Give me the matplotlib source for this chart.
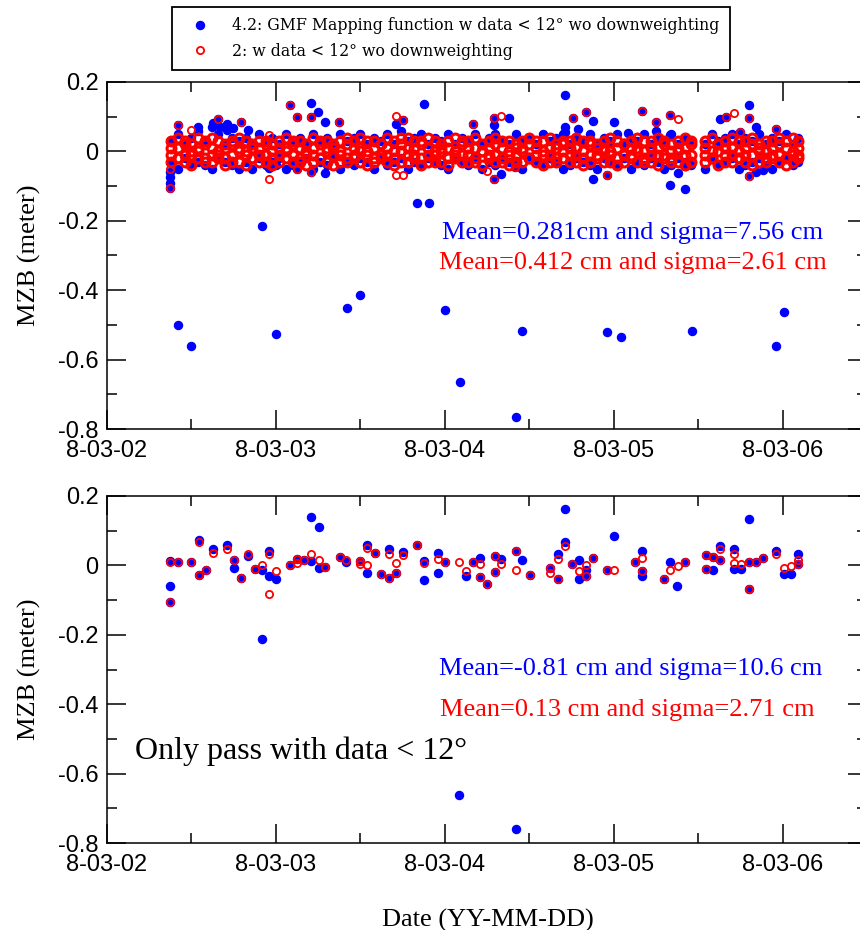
import numpy as np
import matplotlib
matplotlib.use('Agg')
import matplotlib.pyplot as plt
import matplotlib.dates as mdates
from matplotlib.lines import Line2D
from matplotlib.ticker import MultipleLocator, FuncFormatter

plt.rcParams['axes.unicode_minus'] = False

# epochs are days after 2008-03-02 00:00
start = '2008-03-02T00:00'

# dense band of the full solution (values in cm)
band_t = [0.38, 0.42, 0.46, 0.50, 0.54, 0.58, 0.62, 0.66, 0.70, 0.74,
          0.78, 0.82, 0.86, 0.90, 0.94, 0.98, 1.02, 1.06, 1.10, 1.14,
          1.18, 1.22, 1.26, 1.30, 1.34, 1.38, 1.42, 1.46, 1.50, 1.54,
          1.58, 1.62, 1.66, 1.70, 1.74, 1.78, 1.82, 1.86, 1.90, 1.94,
          1.98, 2.02, 2.06, 2.10, 2.14, 2.18, 2.22, 2.26, 2.30, 2.34,
          2.38, 2.42, 2.46, 2.50, 2.54, 2.58, 2.62, 2.66, 2.70, 2.74,
          2.78, 2.82, 2.86, 2.90, 2.94, 2.98, 3.02, 3.06, 3.10, 3.14,
          3.18, 3.22, 3.26, 3.30, 3.34, 3.38, 3.42, 3.46,
          3.54, 3.58, 3.62, 3.66, 3.70, 3.74, 3.78, 3.82, 3.86, 3.90, 3.94, 3.98, 4.02, 4.06, 4.09]

red_hi = [3, 4, 3, 2, 4, 3, 4, 3, 2, 3,
          4, 3, 2, 3, 3, 2, 3, 4, 3, 3,
          2, 4, 3, 3, 2, 3, 4, 3, 4, 3,
          3, 2, 4, 3, 4, 4, 3, 3, 4, 3,
          2, 3, 4, 3, 3, 4, 2, 3, 4, 3,
          3, 2, 3, 4, 3, 3, 4, 2, 3, 3,
          4, 3, 3, 2, 3, 4, 3, 2, 3, 4,
          3, 3, 4, 3, 2, 3, 4, 3,
          3, 4, 2, 3, 4, 3, 3, 4, 2, 3, 3, 4, 3, 4, 3]
red_m1 = [1, 1, 2, 0, 1, 2, 1, 0, 1, 2,
          1, 0, 1, 1, 2, 0, 1, 1, 2, 1,
          0, 1, 2, 1, 1, 0, 2, 1, 1, 0,
          1, 2, 1, 0, 2, 1, 1, 2, 1, 0,
          1, 1, 0, 2, 1, 1, 0, 1, 2, 1,
          0, 1, 1, 2, 1, 0, 1, 1, 2, 1,
          1, 0, 2, 1, 1, 0, 1, 2, 1, 1,
          0, 1, 1, 2, 0, 1, 1, 2,
          1, 0, 2, 1, 1, 0, 1, 2, 1, 0, 1, 2, 1, 0, 1]
red_m2 = [-1, -2, -1, -1, 0, -2, -1, -1, -2, -1,
          0, -1, -2, -1, -1, -2, -1, 0, -1, -2,
          -1, -1, -2, 0, -1, -1, -2, -1, 0, -1,
          -2, -1, -1, -2, 0, -1, -1, -2, -1, -1,
          0, -2, -1, -1, -1, -2, 0, -1, -1, -2,
          -1, -1, 0, -2, -1, -1, -1, -2, 0, -1,
          -1, -2, -1, -1, 0, -1, -2, -1, -1, 0,
          -2, -1, -1, -1, -2, 0, -1, -1,
          -1, -2, 0, -1, -1, -2, -1, -1, 0, -2, -1, -1, -2, -1, -1]
red_lo = [-3, -2, -3, -4, -2, -3, -3, -2, -4, -3,
          -3, -4, -2, -3, -3, -4, -3, -2, -3, -3,
          -4, -3, -2, -3, -4, -3, -3, -2, -3, -4,
          -3, -2, -3, -4, -3, -3, -2, -4, -3, -3,
          -3, -4, -2, -3, -3, -3, -4, -2, -3, -3,
          -4, -3, -3, -2, -3, -4, -3, -3, -2, -3,
          -3, -4, -3, -2, -3, -3, -4, -3, -2, -3,
          -3, -3, -4, -2, -3, -3, -4, -3,
          -3, -2, -4, -3, -3, -2, -3, -4, -3, -3, -2, -3, -4, -3, -2]
blue_hi = [3, 5, 2, 4, 6, 3, 7, 5, 2, 4,
           3, 4, 2, 5, 3, 4, 2, 5, 3, 4,
           2, 5, 3, 4, 2, 5, 3, 4, 5, 2,
           4, 3, 5, 2, 6, 3, 4, 5, 2, 4,
           3, 5, 2, 4, 3, 5, 2, 4, 5, 3,
           2, 5, 3, 4, 2, 5, 3, 4, 5, 2,
           4, 3, 5, 2, 4, 3, 5, 2, 4, 3,
           5, 2, 4, 3, 5, 2, 4, 3,
           2, 5, 3, 4, 5, 2, 4, 3, 5, 2, 4, 3, 5, 2, 4]
blue_lo = [-3, -5, -2, -4, -3, -4, -5, -2, -3, -4,
           -5, -3, -5, -2, -4, -3, -2, -5, -4, -3,
           -2, -5, -3, -4, -2, -5, -3, -4, -2, -3,
           -5, -2, -4, -3, -2, -5, -3, -4, -2, -3,
           -4, -5, -2, -3, -4, -2, -5, -3, -4, -2,
           -3, -4, -5, -2, -3, -4, -2, -3, -5, -4,
           -2, -3, -4, -5, -2, -3, -4, -2, -5, -3,
           -4, -2, -3, -5, -4, -2, -3, -4,
           -5, -2, -4, -3, -2, -5, -4, -3, -2, -4, -5, -3, -2, -4, -3]

# outliers and edge points, top panel (meters)
top_blue_t = [0.375, 0.375, 0.375, 0.375, 0.418, 0.418, 0.497, 0.54, 0.629, 0.658,
              0.668, 0.708, 0.708, 0.747, 0.793, 0.836, 0.919, 0.959, 1.0, 1.0,
              1.083, 1.122, 1.122, 1.207, 1.207, 1.207, 1.25, 1.29, 1.29, 1.375,
              1.42, 1.50, 1.71, 1.753, 1.833, 1.876, 1.905, 2.004, 2.089, 2.168,
              2.29, 2.29, 2.29, 2.335, 2.381, 2.414, 2.42, 2.46, 2.71, 2.71,
              2.71, 2.756, 2.787, 2.838, 2.877, 2.877, 2.963, 2.963, 3.0, 3.045,
              3.085, 3.17, 3.253, 3.253, 3.335, 3.335, 3.335, 3.38, 3.42, 3.42,
              3.463, 3.627, 3.667, 3.75, 3.80, 3.80, 3.80, 3.84, 3.84, 3.886,
              3.962, 3.962, 4.006]
top_blue_v = [-0.106, -0.09, -0.075, -0.06, -0.500, 0.076, -0.561, 0.071, 0.083, 0.093,
              0.071, 0.080, 0.062, 0.067, 0.084, 0.062, -0.214, -0.049, -0.526, -0.039,
              0.133, 0.098, -0.050, 0.139, 0.098, -0.060, 0.113, 0.085, -0.063, 0.085,
              -0.452, -0.415, 0.078, 0.090, -0.148, 0.136, -0.148, -0.457, -0.665, 0.079,
              0.095, 0.076, -0.080, -0.066, 0.095, -0.045, -0.765, -0.517, 0.162, 0.071,
              0.057, 0.095, 0.064, 0.114, 0.089, -0.080, -0.521, -0.068, 0.086, -0.535,
              0.054, 0.117, 0.085, 0.059, 0.105, 0.048, -0.097, -0.061, -0.108, -0.042,
              -0.517, 0.093, 0.099, 0.057, 0.135, 0.095, -0.071, 0.071, -0.058, -0.053,
              0.064, -0.561, -0.462]
top_red_t = [0.375, 0.375, 0.418, 0.50, 0.658, 0.793, 0.959, 0.959, 1.083, 1.122,
             1.122, 1.207, 1.207, 1.375, 1.71, 1.71, 1.753, 1.753, 2.168, 2.25,
             2.29, 2.29, 2.335, 2.414, 2.756, 2.838, 2.963, 3.17, 3.253, 3.335,
             3.38, 3.667, 3.71, 3.75, 3.80, 3.80, 3.962]
top_red_v = [-0.106, -0.05, 0.076, 0.062, 0.093, 0.084, -0.080, 0.047, 0.133, 0.098,
             -0.050, 0.098, -0.060, 0.085, 0.102, -0.069, 0.090, -0.069, 0.079, -0.057,
             0.095, -0.080, 0.102, -0.045, 0.095, 0.114, -0.068, 0.117, 0.085, 0.105,
             0.093, 0.099, 0.110, 0.057, 0.095, -0.071, 0.064]

# bottom panel: only passes with data < 12 deg (meters)
bot_blue_t = [0.375, 0.375, 0.375, 0.418, 0.497, 0.544, 0.544, 0.584, 0.63, 0.712,
              0.751, 0.751, 0.793, 0.832, 0.876, 0.919, 0.919, 0.96, 0.96, 1.0,
              1.083, 1.122, 1.166, 1.21, 1.21, 1.254, 1.254, 1.29, 1.379, 1.418,
              1.497, 1.54, 1.54, 1.586, 1.625, 1.669, 1.669, 1.71, 1.753, 1.833,
              1.876, 1.876, 1.96, 1.96, 2.0, 2.085, 2.128, 2.168, 2.211, 2.211,
              2.25, 2.296, 2.296, 2.335, 2.42, 2.42, 2.46, 2.503, 2.625, 2.67,
              2.67, 2.71, 2.71, 2.755, 2.795, 2.795, 2.838, 2.838, 2.878, 2.958,
              3.003, 3.128, 3.17, 3.17, 3.17, 3.296, 3.335, 3.375, 3.42, 3.544,
              3.544, 3.588, 3.588, 3.627, 3.627, 3.71, 3.71, 3.755, 3.80, 3.80,
              3.80, 3.84, 3.884, 3.962, 4.006, 4.047, 4.09, 4.09]
bot_blue_v = [-0.058, -0.105, 0.012, 0.01, 0.01, 0.073, -0.028, -0.012, 0.048, 0.059,
              0.015, -0.008, -0.037, 0.028, -0.009, -0.014, -0.211, 0.041, -0.031, -0.039,
              0.0, 0.019, 0.015, 0.139, 0.012, 0.111, -0.008, -0.005, 0.024, 0.01,
              0.012, 0.059, -0.023, 0.036, -0.026, 0.046, -0.036, -0.023, 0.04, 0.058,
              0.012, -0.043, 0.036, -0.021, 0.01, -0.663, -0.031, 0.01, 0.022, -0.033,
              -0.055, 0.028, -0.018, 0.019, 0.041, -0.761, 0.017, -0.028, -0.007, 0.034,
              -0.039, 0.163, 0.068, 0.004, 0.017, -0.038, -0.031, -0.012, 0.022, -0.014,
              0.086, 0.01, 0.041, -0.016, -0.031, -0.039, 0.01, -0.06, 0.01, 0.029,
              -0.01, 0.025, -0.012, 0.056, 0.017, 0.046, -0.01, -0.01, 0.134, -0.069,
              0.01, 0.01, 0.022, 0.041, -0.026, -0.026, 0.032, 0.004]
bot_red_t = [0.375, 0.375, 0.418, 0.497, 0.544, 0.544, 0.584, 0.63, 0.712, 0.751,
             0.793, 0.832, 0.876, 0.919, 0.96, 0.96, 1.0, 1.083, 1.122, 1.122,
             1.166, 1.21, 1.254, 1.29, 1.379, 1.418, 1.497, 1.497, 1.54, 1.54,
             1.586, 1.625, 1.669, 1.669, 1.71, 1.71, 1.753, 1.833, 1.876, 1.96,
             2.0, 2.085, 2.128, 2.168, 2.211, 2.211, 2.25, 2.296, 2.296, 2.335,
             2.42, 2.42, 2.503, 2.625, 2.625, 2.67, 2.67, 2.71, 2.755, 2.795,
             2.838, 2.838, 2.878, 2.958, 3.003, 3.128, 3.17, 3.17, 3.296, 3.335,
             3.38, 3.42, 3.544, 3.544, 3.588, 3.627, 3.627, 3.71, 3.71, 3.755,
             3.80, 3.80, 3.84, 3.884, 3.962, 4.006, 4.047, 4.09, 4.09]
bot_red_v = [-0.105, 0.01, 0.01, 0.01, 0.068, -0.028, -0.012, 0.037, 0.046, 0.015,
             -0.037, 0.034, -0.009, 0.0, 0.032, -0.081, -0.017, 0.0, 0.019, 0.006,
             0.015, 0.032, 0.015, -0.005, 0.024, 0.017, 0.012, 0.003, 0.049, 0.0,
             0.036, -0.026, 0.032, -0.036, 0.006, -0.023, 0.029, 0.058, 0.008, 0.019,
             0.01, 0.01, -0.016, 0.01, 0.004, -0.033, -0.055, 0.028, -0.018, 0.004,
             0.041, -0.012, -0.028, -0.007, -0.023, 0.019, -0.039, 0.056, 0.004, -0.016,
             0.0, -0.031, 0.022, -0.014, -0.014, 0.01, 0.022, -0.016, -0.039, -0.012,
             -0.002, 0.01, 0.029, -0.01, 0.025, 0.046, 0.017, 0.032, 0.006, 0.004,
             -0.069, 0.01, 0.01, 0.022, 0.032, -0.007, -0.002, 0.017, 0.004]

legend_labels = ['4.2: GMF Mapping function w data < 12° wo downweighting',
                 '2: w data < 12° wo downweighting']
top_stats = ['Mean=0.281cm and sigma=7.56 cm', 'Mean=0.412 cm and sigma=2.61 cm']
bot_stats = ['Mean=-0.81 cm and sigma=10.6 cm', 'Mean=0.13 cm and sigma=2.71 cm']


def to_dates(days):
    mins = np.round(np.array(days) * 1440).astype('int64')
    return np.datetime64(start) + mins.astype('timedelta64[m]')


def date_label(v, pos):
    d = mdates.num2date(v)
    return '%d-%02d-%02d' % (d.year % 10, d.month, d.day)


def blue(ax, t, v):
    ax.plot(to_dates(t), v, 'o', color='blue', ms=5.8, mec='blue', ls='none')


def red(ax, t, v, ms=5.2, mew=1.3):
    ax.plot(to_dates(t), v, 'o', mfc='none', mec='red', ms=ms, mew=mew, ls='none')


def setup(ax):
    ax.set_xlim(to_dates([0.0])[0], to_dates([4.5])[0])
    ax.set_ylim(-0.8, 0.2)
    ax.xaxis.set_major_locator(mdates.DayLocator())
    ax.xaxis.set_minor_locator(mdates.HourLocator(byhour=[12]))
    ax.xaxis.set_major_formatter(FuncFormatter(date_label))
    ax.yaxis.set_major_locator(MultipleLocator(0.2))
    ax.yaxis.set_minor_locator(MultipleLocator(0.1))
    ax.yaxis.set_major_formatter(FuncFormatter(lambda v, p: '0' if abs(v) < 1e-9 else '%.1f' % v))
    ax.tick_params(which='both', direction='in', top=True, right=True, width=1.1)
    ax.tick_params(which='major', length=13.5, pad=6, labelsize=17)
    ax.tick_params(axis='x', which='major', pad=8)
    ax.tick_params(which='minor', length=7)
    for lab in ax.get_xticklabels() + ax.get_yticklabels():
        lab.set_family('Liberation Sans')
    for s in ax.spines.values():
        s.set_linewidth(1.1)


fig = plt.figure(figsize=(8.6, 9.3), dpi=100)
ax1 = fig.add_axes([107 / 860, 1 - 429 / 930, 760 / 860, 347 / 930])
ax2 = fig.add_axes([107 / 860, 1 - 843 / 930, 760 / 860, 347 / 930])

blue(ax1, band_t * 2, [c / 100 for c in blue_hi + blue_lo])
blue(ax1, top_blue_t, top_blue_v)
red(ax1, band_t * 4, [c / 100 for c in red_hi + red_m1 + red_m2 + red_lo], ms=6.4, mew=2.2)
red(ax1, top_red_t, top_red_v)

blue(ax2, bot_blue_t, bot_blue_v)
red(ax2, bot_red_t, bot_red_v)

for ax in (ax1, ax2):
    setup(ax)

serif = ['Liberation Serif', 'DejaVu Serif']
ax1.text(0.692, 0.565, top_stats[0], transform=ax1.transAxes, color='blue',
         ha='center', va='center', fontsize=19, family=serif)
ax1.text(0.692, 0.478, top_stats[1], transform=ax1.transAxes, color='red',
         ha='center', va='center', fontsize=19, family=serif)
ax2.text(0.689, 0.501, bot_stats[0], transform=ax2.transAxes, color='blue',
         ha='center', va='center', fontsize=19, family=serif)
ax2.text(0.684, 0.383, bot_stats[1], transform=ax2.transAxes, color='red',
         ha='center', va='center', fontsize=19, family=serif)
ax2.text(0.037, 0.265, 'Only pass with data < 12°', transform=ax2.transAxes,
         ha='left', va='center', fontsize=23, family=serif)

fig.text(29 / 860, 1 - 255.5 / 930, 'MZB (meter)', rotation=90, ha='center', va='center',
         fontsize=19, family=serif)
fig.text(29 / 860, 1 - 669.5 / 930, 'MZB (meter)', rotation=90, ha='center', va='center',
         fontsize=19, family=serif)
fig.text(488 / 860, 1 - 920 / 930, 'Date (YY-MM-DD)', ha='center', va='center',
         fontsize=19, family=serif)

handles = [Line2D([], [], marker='o', ls='none', color='blue', ms=5.8),
           Line2D([], [], marker='o', ls='none', mfc='none', mec='red', ms=5.2, mew=1.3)]
leg = fig.legend(handles, legend_labels, loc='upper left', bbox_to_anchor=(172 / 860, 1 - 7 / 930),
                 frameon=True, fancybox=False, edgecolor='black', framealpha=1,
                 prop={'family': 'DejaVu Serif', 'size': 11.3}, handlelength=2.3,
                 handletextpad=0.9, labelspacing=0.55, borderpad=0.65, borderaxespad=0)
leg.get_frame().set_linewidth(1.3)

fig.savefig('out.png', dpi=100)
